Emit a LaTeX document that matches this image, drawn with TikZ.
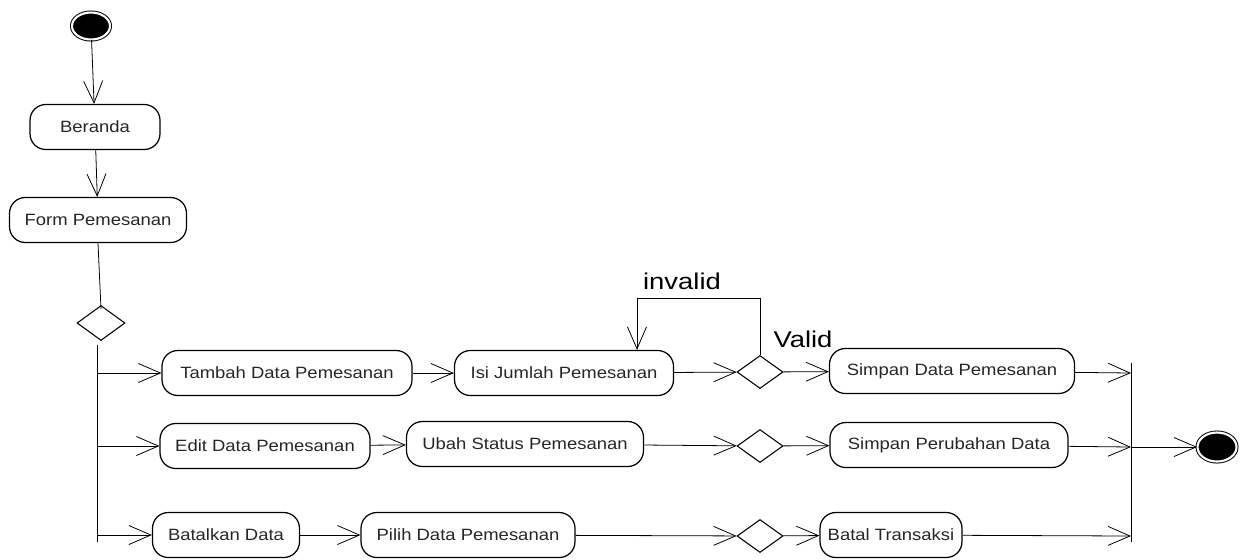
\documentclass[tikz,border=0pt]{standalone}
\usepackage{fontspec}
\usepackage{tikz}
\usetikzlibrary{shapes.geometric,arrows.meta}
\newfontfamily\actfont[FakeStretch=1.13]{Liberation Sans}
\newfontfamily\guardfont[FakeStretch=1.2]{Liberation Sans}

\begin{document}
\begin{tikzpicture}[x=0.02cm,y=-0.02cm,
        act/.style={draw, rounded corners=9pt, line width=0.7pt, inner sep=0pt,
            minimum width=#1*0.02cm, minimum height=45*0.02cm,
            font=\actfont\fontsize{9.3}{11}\selectfont, text=black!85},
        dec/.style={draw, diamond, inner sep=0pt, line width=0.6pt,
            minimum width=46*0.02cm, minimum height=33*0.02cm},
        terminal/.style={draw, ellipse, fill=black, double=white, double distance=1.2pt,
            line width=0.55pt, minimum width=38*0.02cm, minimum height=27*0.02cm, inner sep=0pt},
        flow/.style={line width=0.45pt, -{Straight Barb[length=4.4mm,width=3.8mm,line width=0.45pt]}},
        plain/.style={line width=0.45pt},
        guard/.style={font=\guardfont\fontsize{13}{15}\selectfont, inner sep=0pt}]
        \useasboundingbox (0,0) rectangle (1246,559);
        \node[terminal] (start) at (91,26) {};
        \node[act=130] (beranda) at (95,127) {Beranda};
        \node[act=177] (form) at (98,220) {Form Pemesanan};
        \node[dec, minimum width=48*0.02cm, minimum height=35*0.02cm] (d0) at (101,323) {};
        \coordinate (ftop) at (97,345);
        \coordinate (fbot) at (97,542);

        \node[act=250] (tambah) at (287,373) {Tambah Data Pemesanan};
        \node[act=219] (isi) at (564,373) {Isi Jumlah Pemesanan};
        \node[dec] (d1) at (760,372) {};
        \node[act=245] (simpan) at (952,371) {Simpan Data Pemesanan};

        \node[act=210] (edit) at (265,446) {Edit Data Pemesanan};
        \node[act=237] (ubah) at (525,444) {Ubah Status Pemesanan};
        \node[dec] (d2) at (760,446) {};
        \node[act=238] (simpanubah) at (949,445) {Simpan Perubahan Data};

        \node[act=147] (batalkan) at (226,535) {Batalkan Data};
        \node[act=214] (pilih) at (468,535) {Pilih Data Pemesanan};
        \node[dec] (d3) at (760,536) {};
        \node[act=142] (batal) at (891,535) {Batal Transaksi};

        \coordinate (jtop) at (1131,363);
        \coordinate (jbot) at (1131,542);
        \coordinate (j1) at (1131,373);
        \coordinate (j2) at (1131,447);
        \coordinate (j3) at (1131,536);
        \node[terminal, minimum width=39*0.02cm, minimum height=29*0.02cm] (end) at (1217,447) {};

        \coordinate (loop) at (637,298);
        \node[guard] (invalid) at (682,281) {invalid};
        \node[guard] (valid) at (803,339) {Valid};

        \draw[flow] (start) -- (beranda);
        \draw[flow] (beranda) -- (form);
        \draw[plain] (form.south) -- ([yshift=-4*0.02cm]d0.north);
        \draw[plain] (ftop) -- (fbot);
        \draw[flow] (ftop |- tambah) -- (tambah);
        \draw[flow] (ftop |- edit) -- (edit);
        \draw[flow] (ftop |- batalkan) -- (batalkan);

        \draw[flow] (tambah) -- (isi);
        \draw[flow] (isi) -- (d1);
        \draw[flow] (d1) -- (simpan);
        \draw[flow] (d1.north) |- (loop) -- (loop |- isi.north);
        \draw[flow] (simpan) -- (j1);

        \draw[flow] (edit) -- (ubah);
        \draw[flow] (ubah) -- (d2);
        \draw[flow] (d2) -- (simpanubah);
        \draw[flow] (simpanubah) -- (j2);

        \draw[flow] (batalkan) -- (pilih);
        \draw[flow] (pilih) -- (d3);
        \draw[flow] (d3) -- (batal);
        \draw[flow] (batal) -- (j3);

        \draw[plain] (jtop) -- (jbot);
        \draw[flow] (j2) -- (end);
\end{tikzpicture}
\end{document}
